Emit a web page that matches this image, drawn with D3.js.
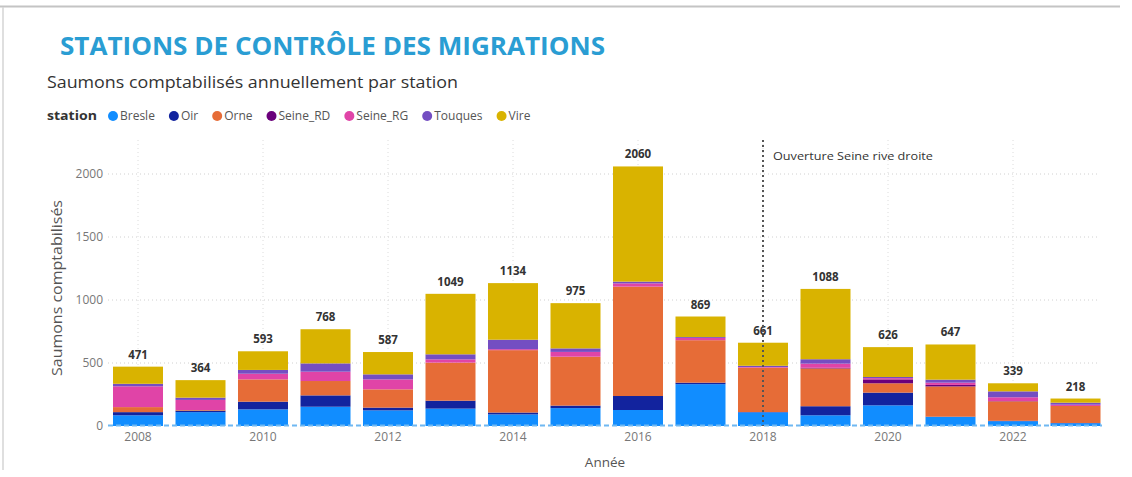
<!DOCTYPE html>
<html>
<head>
<meta charset="utf-8">
<script src="https://cdn.jsdelivr.net/npm/d3@7"></script>
<style>
  html, body { margin: 0; padding: 0; background: #fff; }
  svg { display: block; font-family: "Open Sans", "Noto Sans", sans-serif; }
</style>
</head>
<body>
<svg id="chart" width="1132" height="477"></svg>
<script>
// ---- data ----
const years = [2008, 2009, 2010, 2011, 2012, 2013, 2014, 2015, 2016, 2017, 2018, 2019, 2020, 2021, 2022, 2023];
const stations = ["Bresle", "Oir", "Orne", "Seine_RD", "Seine_RG", "Touques", "Vire"];
const bresle   = [85, 110, 132, 153, 124, 138, 92, 142, 127, 332, 108, 85, 164, 72, 38, 22];
const oir      = [25, 12, 61, 90, 22, 63, 15, 20, 111, 12, 3, 72, 101, 2, 3, 2];
const orne     = [40, 5, 177, 114, 145, 302, 495, 388, 868, 337, 352, 300, 74, 240, 155, 135];
const seineRD  = [0, 0, 0, 0, 0, 0, 0, 0, 0, 0, 0, 5, 31, 12, 2, 0];
const seineRG  = [165, 80, 45, 74, 79, 26, 8, 38, 26, 18, 5, 33, 10, 18, 30, 10];
const touques  = [20, 18, 30, 66, 40, 40, 75, 28, 14, 7, 10, 35, 9, 24, 47, 16];
const vire     = [136, 139, 148, 271, 177, 480, 449, 359, 914, 163, 183, 558, 237, 279, 64, 33];
const yTicks = [0, 500, 1000, 1500, 2000];
const xTickYears = [2008, 2010, 2012, 2014, 2016, 2018, 2020, 2022];
const refYear = 2018;
const refLabel = "Ouverture Seine rive droite";
const colors = ["#118DFF", "#12239E", "#E66C37", "#6B007B", "#E044A7", "#744EC2", "#D9B300"];

const seriesValues = [bresle, oir, orne, seineRD, seineRG, touques, vire];
const table = years.map((y, i) => {
  const row = { year: y };
  stations.forEach((s, k) => row[s] = seriesValues[k][i]);
  return row;
});

// ---- drawing ----
const svg = d3.select("#chart");

// frame
svg.append("line").attr("x1", 0).attr("x2", 1120).attr("y1", 6.5).attr("y2", 6.5)
  .attr("stroke", "#c4c4c4").attr("stroke-width", 2);
svg.append("line").attr("x1", 3).attr("x2", 3).attr("y1", 7).attr("y2", 470)
  .attr("stroke", "#d4d4d4").attr("stroke-width", 1.5);

// title
svg.append("text").attr("x", 60).attr("y", 55)
  .attr("font-size", 25).attr("font-weight", 700).attr("fill", "#2a9dd3")
  .attr("textLength", 545).attr("lengthAdjust", "spacingAndGlyphs")
  .text("STATIONS DE CONTRÔLE DES MIGRATIONS");

svg.append("text").attr("x", 47).attr("y", 88)
  .attr("font-size", 16).attr("fill", "#333")
  .attr("textLength", 411).attr("lengthAdjust", "spacingAndGlyphs")
  .text("Saumons comptabilisés annuellement par station");

// legend
const lg = svg.append("g").attr("font-size", 12);
lg.append("text").attr("x", 47).attr("y", 120).attr("font-weight", 700).attr("fill", "#333")
  .attr("textLength", 50).attr("lengthAdjust", "spacingAndGlyphs").text("station");
let lx = 108;
stations.forEach((s, k) => {
  lg.append("circle").attr("cx", lx + 5).attr("cy", 116).attr("r", 5).attr("fill", colors[k]);
  const t = lg.append("text").attr("x", lx + 12).attr("y", 120).attr("fill", "#555").text(s);
  lx += 12 + t.node().getComputedTextLength() + 14;
});

// scales
const x = d3.scaleBand().domain(years).range([106.75, 1106.75]).paddingInner(0.2).paddingOuter(0.1);
const y = d3.scaleLinear().domain([0, 2000]).range([426, 174]);

// gridlines
const grid = svg.append("g");
grid.selectAll("line.h").data(yTicks.filter(d => d > 0)).join("line")
  .attr("x1", 108).attr("x2", 1100).attr("y1", d => y(d)).attr("y2", d => y(d))
  .attr("stroke", "#d0d0d0").attr("stroke-dasharray", "1,3");
grid.selectAll("line.v").data(xTickYears).join("line")
  .attr("x1", d => x(d) + x.bandwidth() / 2).attr("x2", d => x(d) + x.bandwidth() / 2)
  .attr("y1", 140).attr("y2", 426)
  .attr("stroke", "#dcdcdc").attr("stroke-dasharray", "1,3");

// y axis
const yAxis = d3.axisLeft(y).tickValues(yTicks).tickFormat(d3.format("d")).tickSize(0).tickPadding(0);
const ya = svg.append("g").attr("transform", "translate(103,0)").call(yAxis);
ya.select(".domain").remove();
ya.selectAll("text").attr("font-size", 12).attr("fill", "#777").attr("font-family", "Open Sans, sans-serif");

// x axis
const xAxis = d3.axisBottom(x).tickValues(xTickYears).tickSize(0).tickPadding(0);
const xa = svg.append("g").attr("transform", "translate(0,432)").call(xAxis);
xa.select(".domain").remove();
xa.selectAll("text").attr("font-size", 12).attr("fill", "#777").attr("font-family", "Open Sans, sans-serif");

// axis titles
svg.append("text").attr("transform", "translate(62,288) rotate(-90)")
  .attr("text-anchor", "middle").attr("font-size", 14).attr("fill", "#555")
  .attr("textLength", 176).attr("lengthAdjust", "spacingAndGlyphs")
  .text("Saumons comptabilisés");
svg.append("text").attr("x", 605).attr("y", 467)
  .attr("text-anchor", "middle").attr("font-size", 13.5).attr("fill", "#555")
  .text("Année");

// stacked bars
const stacked = d3.stack().keys(stations)(table);
svg.append("g").selectAll("g").data(stacked).join("g")
  .attr("fill", (d, k) => colors[k])
  .selectAll("rect").data(d => d).join("rect")
  .attr("x", d => x(d.data.year))
  .attr("width", x.bandwidth())
  .attr("y", d => y(d[1]))
  .attr("height", d => Math.max(0, y(d[0]) - y(d[1])));

// baseline dashed line
svg.append("line").attr("x1", 108).attr("x2", 1102).attr("y1", 425.5).attr("y2", 425.5)
  .attr("stroke", "#6fb8f2").attr("stroke-width", 2).attr("stroke-dasharray", "5,3");

// total labels
svg.append("g").selectAll("text").data(table).join("text")
  .attr("x", d => x(d.year) + x.bandwidth() / 2)
  .attr("y", d => y(d3.sum(stations, s => d[s])) - 8)
  .attr("text-anchor", "middle").attr("font-size", 11.5).attr("font-weight", 700).attr("fill", "#333")
  .text(d => d3.sum(stations, s => d[s]));

// reference line
const rx = x(refYear) + x.bandwidth() / 2;
svg.append("line").attr("x1", rx).attr("x2", rx).attr("y1", 140).attr("y2", 426)
  .attr("stroke", "#555").attr("stroke-width", 2).attr("stroke-dasharray", "2,3");
svg.append("text").attr("x", rx + 10).attr("y", 160)
  .attr("font-size", 11.5).attr("fill", "#333")
  .attr("textLength", 160).attr("lengthAdjust", "spacingAndGlyphs")
  .text(refLabel);
</script>
</body>
</html>
